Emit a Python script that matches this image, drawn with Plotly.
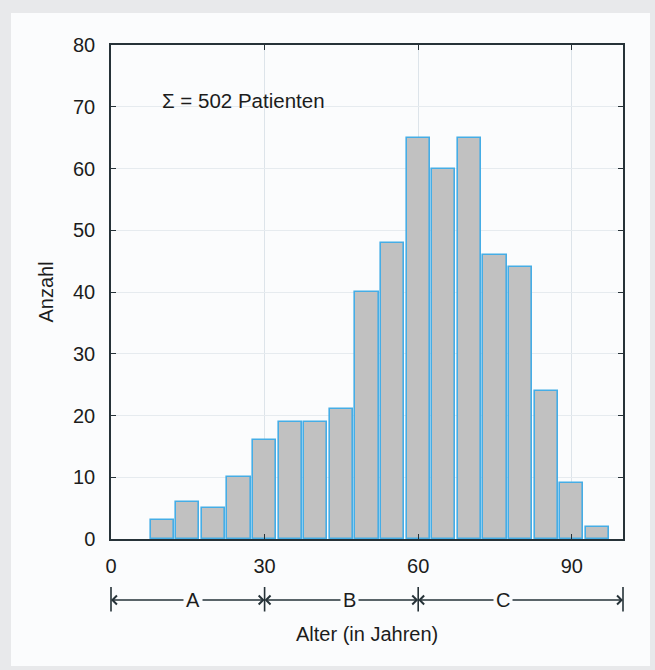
import plotly.graph_objects as go

# Data
age_bins = [10, 15, 20, 25, 30, 35, 40, 45, 50, 55, 60, 65, 70, 75, 80, 85, 90, 95]
counts = [3, 6, 5, 10, 16, 19, 19, 21, 40, 48, 65, 60, 65, 46, 44, 24, 9, 2]
x_ticks = [0, 30, 60, 90]
y_ticks = [0, 10, 20, 30, 40, 50, 60, 70, 80]
groups = ["A", "B", "C"]
group_bounds = [(0, 30), (30, 60), (60, 100)]
group_label_pos = [16, 46.5, 76.5]
total_text = "Σ = 502 Patienten"

INNER = "#fbfcfd"
OUTER = "#e8e9eb"
AXC = "#263238"
TXT = "#1c1c1c"
FONT = "Liberation Sans, Arial, sans-serif"

fig = go.Figure()
fig.add_trace(go.Bar(
    x=age_bins, y=counts, width=4.55,
    marker=dict(color="#c1c1c1", line=dict(color="#45ade6", width=1.6)),
    hoverinfo="x+y",
))

annotations = [
    dict(x=9.6, y=71, xref="x", yref="y", text=total_text, showarrow=False,
         xanchor="left", yanchor="middle", font=dict(size=20.5, color=TXT, family=FONT)),
    dict(x=0.5, y=-0.192, xref="paper", yref="paper", text="Alter (in Jahren)",
         showarrow=False, xanchor="center", yanchor="middle",
         font=dict(size=20, color=TXT, family=FONT)),
]

row_y = -0.1235
# arrows
for (lo, hi), lbl, pos in zip(group_bounds, groups, group_label_pos):
    for end in (lo, hi):
        annotations.append(dict(
            x=end, y=row_y, xref="x", yref="paper", ax=pos, ay=0, axref="x", ayref="pixel",
            text="", showarrow=True, arrowhead=4, arrowsize=1.25, arrowwidth=1.4,
            arrowcolor=AXC, standoff=0, startstandoff=0, font=dict(size=1)))
    annotations.append(dict(
        x=pos, y=row_y, xref="x", yref="paper", text=lbl, showarrow=False,
        xanchor="center", yanchor="middle", bgcolor=INNER, borderpad=2,
        font=dict(size=20, color=TXT, family=FONT)))

# vertical bars at segment boundaries
bounds = sorted(set([b for g in group_bounds for b in g]))
for b in bounds:
    annotations.append(dict(
        x=b, y=-0.097, xref="x", yref="paper", ax=0, ay=26, axref="pixel", ayref="pixel",
        text="", showarrow=True, arrowhead=0, arrowwidth=1.6, arrowcolor=AXC,
        standoff=0, startstandoff=0, font=dict(size=1)))

fig.update_layout(
    width=655, height=670,
    margin=dict(l=111, r=32, t=45, b=131),
    paper_bgcolor=OUTER, plot_bgcolor=INNER,
    showlegend=False, bargap=0,
    font=dict(family=FONT, color=TXT, size=20),
    annotations=annotations,
    shapes=[dict(type="rect", xref="paper", yref="paper", x0=-0.1953, x1=1.0527,
                 y0=-0.2571, y1=1.0648, fillcolor=INNER, line=dict(width=0), layer="below")],
    xaxis=dict(range=[0, 100], tickvals=x_ticks, ticktext=[str(v) for v in x_ticks],
               showline=True, linecolor=AXC, linewidth=1.5, mirror="ticks",
               ticks="inside", ticklen=5, tickcolor=AXC, tickwidth=1,
               showgrid=True, gridcolor="#dde4ea", gridwidth=1, zeroline=False,
               ticklabelstandoff=8, tickfont=dict(size=20, color=TXT)),
    yaxis=dict(range=[0, 80], tickvals=y_ticks, ticktext=[str(v) for v in y_ticks],
               showline=True, linecolor=AXC, linewidth=1.5, mirror="ticks",
               ticks="inside", ticklen=5, tickcolor=AXC, tickwidth=1,
               showgrid=True, gridcolor="#e6ebef", gridwidth=1, zeroline=False,
               ticklabelstandoff=10, tickfont=dict(size=20, color=TXT),
               title=dict(text="Anzahl", standoff=14, font=dict(size=20, color=TXT))),
)

fig.write_html("out.html")
